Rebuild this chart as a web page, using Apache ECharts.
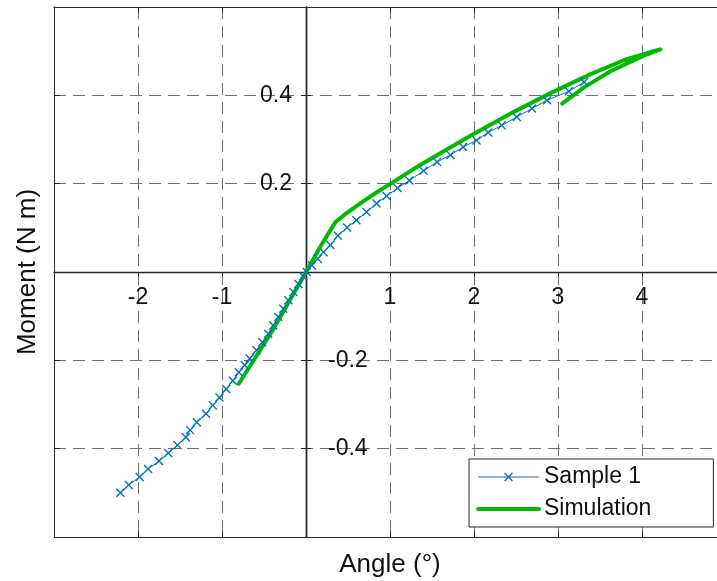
<!DOCTYPE html>
<html>
<head>
<meta charset="utf-8">
<title>Moment vs Angle</title>
<script src="https://cdn.jsdelivr.net/npm/echarts@6/dist/echarts.min.js"></script>
<style>
  html, body { margin: 0; padding: 0; background: #fff; }
  #chart { width: 717px; height: 581px; }
</style>
</head>
<body>
<div id="chart"></div>
<script>
// Sample 1 measurement: angle (deg) vs moment (N m)
const sampleAngle = [
  -2.21, -2.11, -1.98, -1.88, -1.75, -1.64, -1.53, -1.43, -1.38, -1.30,
  -1.19, -1.11, -1.03, -0.95, -0.87, -0.80, -0.73, -0.67, -0.59, -0.52,
  -0.45, -0.39, -0.33, -0.27, -0.21, -0.15, -0.09, -0.03, 0.01, 0.07,
  0.14, 0.21, 0.29, 0.38, 0.49, 0.60, 0.72, 0.84, 0.96, 1.09,
  1.23, 1.40, 1.56, 1.72, 1.87, 2.03, 2.17, 2.33, 2.51, 2.69,
  2.87, 3.13, 3.31
];
const sampleMoment = [
  -0.500, -0.482, -0.464, -0.446, -0.428, -0.410, -0.392, -0.374, -0.358, -0.340,
  -0.321, -0.302, -0.284, -0.265, -0.246, -0.227, -0.211, -0.196, -0.177, -0.159,
  -0.140, -0.121, -0.102, -0.083, -0.064, -0.045, -0.027, -0.010, 0.000, 0.015,
  0.030, 0.045, 0.061, 0.082, 0.101, 0.117, 0.136, 0.155, 0.172, 0.190,
  0.207, 0.229, 0.249, 0.265, 0.283, 0.298, 0.316, 0.332, 0.351, 0.370,
  0.389, 0.409, 0.430
];

// Simulation: loading branch up to the tip, then unloading back
const simAngle = [
  -0.80, -0.40, 0.00, 0.17, 0.35, 0.48, 0.68, 0.88, 1.00, 1.28,
  1.68, 1.99, 2.47, 2.91, 3.39, 3.79, 4.10, 4.22, 4.02, 3.63, 3.31, 3.05
];
const simMoment = [
  -0.253, -0.133, 0.000, 0.057, 0.113, 0.133, 0.160, 0.185, 0.199, 0.233,
  0.278, 0.312, 0.362, 0.405, 0.448, 0.480, 0.498, 0.504, 0.490, 0.455, 0.418, 0.381
];

// tick labels shown on the origin axes
const xTickLabels = [-2, -1, 1, 2, 3, 4];
const yTickLabelsLeft = [0.2, 0.4];
const yTickLabelsRight = [-0.2, -0.4];

const font = 'Liberation Sans, Arial, Helvetica, sans-serif';
const axisColor = '#262626';
const gridColor = '#6e6e6e';

// plot box in pixels; the right edge runs off the canvas like in the figure
const gridLeft = 54, gridTop = 7, gridWidth = 672, gridHeight = 530;
const xMin = -3, xMax = 5, yMin = -0.6, yMax = 0.6;
// offsets that bring the origin axes onto x = 0 and y = 0
const zeroX = gridWidth * (0 - xMin) / (xMax - xMin);
const zeroY = gridHeight * (yMax - 0) / (yMax - yMin);

const near = (list, v) => list.some(t => Math.abs(t - v) < 1e-6);

const chart = echarts.init(document.getElementById('chart'));

const option = {
  animation: false,
  backgroundColor: '#fff',
  grid: {
    left: gridLeft, top: gridTop, width: gridWidth, height: gridHeight,
    outerBoundsMode: 'none', containLabel: false
  },
  xAxis: [
    {
      // axis through the origin
      type: 'value', min: xMin, max: xMax, interval: 1, position: 'bottom',
      offset: -(gridHeight - zeroY),
      axisLine: { onZero: false, lineStyle: { color: axisColor, width: 1.4 } },
      axisTick: { show: true, length: 5, lineStyle: { color: axisColor } },
      axisLabel: {
        margin: 14, fontSize: 23, color: '#111', fontFamily: font,
        formatter: v => near(xTickLabels, v) ? String(v) : ''
      },
      splitLine: { show: true, lineStyle: { color: gridColor, type: [12, 7], width: 1 } }
    },
    {
      // bottom edge of the box
      type: 'value', min: xMin, max: xMax, interval: 1, position: 'bottom',
      axisLine: { onZero: false, lineStyle: { color: axisColor, width: 1 } },
      axisTick: { show: true, inside: true, length: 6, lineStyle: { color: axisColor } },
      axisLabel: { show: false },
      splitLine: { show: false },
      name: 'Angle (°)', nameLocation: 'middle', nameGap: 15,
      nameTextStyle: { fontSize: 26, color: '#111', fontFamily: font, verticalAlign: 'top' }
    },
    {
      // top edge of the box
      type: 'value', min: xMin, max: xMax, interval: 1, position: 'top',
      axisLine: { onZero: false, lineStyle: { color: axisColor, width: 1 } },
      axisTick: { show: true, inside: true, length: 6, lineStyle: { color: axisColor } },
      axisLabel: { show: false },
      splitLine: { show: false }
    }
  ],
  yAxis: [
    {
      // axis through the origin, positive labels on the left
      type: 'value', min: yMin, max: yMax, interval: 0.2, position: 'left',
      offset: -zeroX,
      axisLine: { onZero: false, lineStyle: { color: axisColor, width: 1.4 } },
      axisTick: { show: true, length: 5, lineStyle: { color: axisColor } },
      axisLabel: {
        margin: 14, fontSize: 23, color: '#111', fontFamily: font,
        formatter: v => near(yTickLabelsLeft, v) ? v.toFixed(1) : ''
      },
      splitLine: { show: true, lineStyle: { color: gridColor, type: [12, 7], width: 1 } }
    },
    {
      // same axis, negative labels on the right
      type: 'value', min: yMin, max: yMax, interval: 0.2, position: 'right',
      offset: -(gridWidth - zeroX),
      axisLine: { onZero: false, lineStyle: { color: axisColor, width: 1.4 } },
      axisTick: { show: true, length: 5, lineStyle: { color: axisColor } },
      axisLabel: {
        margin: 22, fontSize: 23, color: '#111', fontFamily: font,
        formatter: v => near(yTickLabelsRight, v) ? v.toFixed(1) : ''
      },
      splitLine: { show: false }
    },
    {
      // left edge of the box
      type: 'value', min: yMin, max: yMax, interval: 0.2, position: 'left',
      axisLine: { onZero: false, lineStyle: { color: axisColor, width: 1 } },
      axisTick: { show: true, inside: true, length: 6, lineStyle: { color: axisColor } },
      axisLabel: { show: false },
      splitLine: { show: false },
      name: 'Moment (N m)', nameLocation: 'middle', nameGap: 13,
      nameTextStyle: { fontSize: 26, color: '#111', fontFamily: font }
    }
  ],
  legend: {
    orient: 'vertical',
    left: 469, top: 459,
    padding: [5, 62, 5, 7],
    itemWidth: 61, itemHeight: 11, itemGap: 6,
    backgroundColor: '#fff', borderColor: axisColor, borderWidth: 1, borderRadius: 0,
    textStyle: { fontSize: 23, color: '#111', fontFamily: font, lineHeight: 26 },
    data: [
      { name: 'Sample 1', lineStyle: { width: 1 } },
      { name: 'Simulation', lineStyle: { width: 4 }, itemStyle: { opacity: 0 } }
    ]
  },
  series: [
    {
      name: 'Sample 1',
      type: 'line',
      xAxisIndex: 0, yAxisIndex: 0,
      data: sampleAngle.map((a, i) => [a, sampleMoment[i]]),
      symbol: 'path://M0,1.1L1.1,0L5,3.9L8.9,0L10,1.1L6.1,5L10,8.9L8.9,10L5,6.1L1.1,10L0,8.9L3.9,5Z',
      symbolSize: 9,
      showAllSymbol: true,
      itemStyle: { color: '#0072bd' },
      lineStyle: { color: '#0072bd', width: 1 }
    },
    {
      name: 'Simulation',
      type: 'line',
      xAxisIndex: 0, yAxisIndex: 0,
      data: simAngle.map((a, i) => [a, simMoment[i]]),
      symbol: 'none',
      itemStyle: { color: '#00bb00' },
      lineStyle: { color: '#00bb00', width: 4, cap: 'round', join: 'round' }
    }
  ]
};

chart.setOption(option);
</script>
</body>
</html>
